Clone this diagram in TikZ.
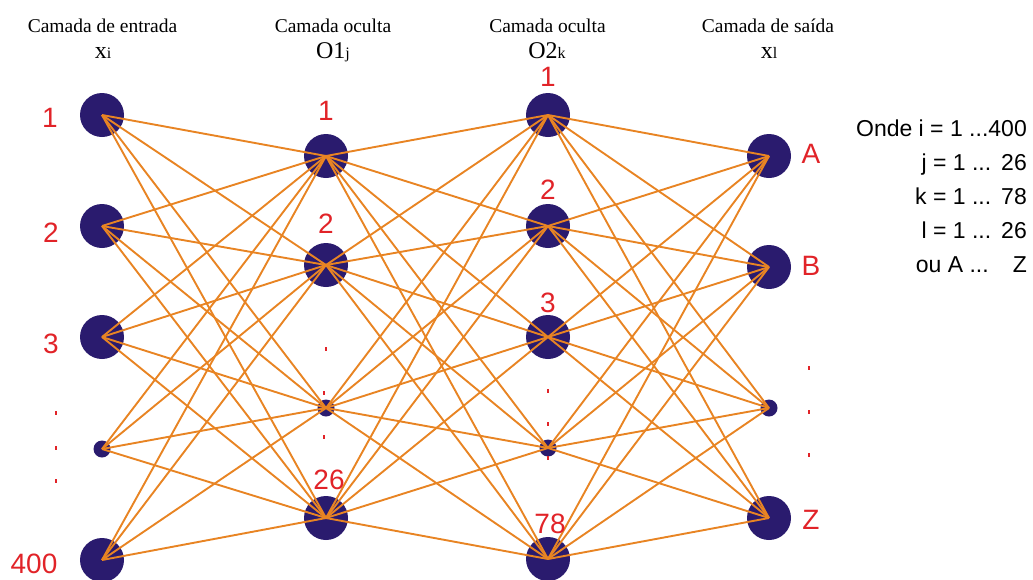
\documentclass[tikz,border=0pt]{standalone}
\usepackage{fontspec}
\setmainfont{Liberation Serif}
\newfontfamily\labfont{Liberation Sans}
\definecolor{navy}{RGB}{42,27,110}
\definecolor{wirecol}{RGB}{232,132,35}
\definecolor{lred}{RGB}{225,35,40}
\begin{document}
\begin{tikzpicture}[x=1pt,y=-1pt,
  big/.style={circle,fill=navy,minimum size=44pt,inner sep=0},
  tiny/.style={circle,fill=navy,minimum size=17pt,inner sep=0},
  wire/.style={draw=wirecol,line width=1.9pt},
  num/.style={text=lred,font=\labfont\fontsize{28}{28}\selectfont,inner sep=0},
  rdot/.style={rectangle,fill=lred,inner sep=0,minimum width=2pt,minimum height=4pt},
  head/.style={font=\fontsize{19.5}{20}\selectfont,inner sep=0,anchor=base},
  sym/.style={font=\fontsize{24}{24}\selectfont,inner sep=0,anchor=base},
  leg/.style={font=\labfont\fontsize{23}{23}\selectfont,inner sep=0,anchor=base east}]
\useasboundingbox (0,0) rectangle (1033,579);
% input layer
\node[big] (i1) at (102,115) {};
\node[big] (i2) at (102,226) {};
\node[big] (i3) at (102,337) {};
\node[tiny] (i4) at (102,449) {};
\node[big] (i5) at (102,560) {};
% hidden 1
\node[big] (a1) at (326,156) {};
\node[big] (a2) at (326,265) {};
\node[tiny] (a3) at (326,408) {};
\node[big] (a4) at (326,518) {};
% hidden 2
\node[big] (b1) at (548,115) {};
\node[big] (b2) at (548,226) {};
\node[big] (b3) at (548,337) {};
\node[tiny] (b4) at (548,448) {};
\node[big] (b5) at (548,559) {};
% output
\node[big] (c1) at (769,156) {};
\node[big] (c2) at (769,267) {};
\node[tiny] (c3) at (769,408) {};
\node[big] (c4) at (769,518) {};
% connections
\foreach \s in {i1,i2,i3,i4,i5}
  \foreach \t in {a1,a2,a3,a4}
    \draw[wire] (\s.center) -- (\t.center);
\foreach \s in {a1,a2,a3,a4}
  \foreach \t in {b1,b2,b3,b4,b5}
    \draw[wire] (\s.center) -- (\t.center);
\foreach \s in {b1,b2,b3,b4,b5}
  \foreach \t in {c1,c2,c3,c4}
    \draw[wire] (\s.center) -- (\t.center);
% labels
\node[num] (li1) at (50,118) {1};
\node[num] (li2) at (51,233) {2};
\node[num] (li3) at (51,344) {3};
\node[num] (li5) at (34,564) {400};
\node[num] (la1) at (326,111) {1};
\node[num] (la2) at (326,224) {2};
\node[num] (la4) at (329,480) {26};
\node[num] (lb1) at (548,77) {1};
\node[num] (lb2) at (548,190) {2};
\node[num] (lb3) at (548,303) {3};
\node[num] (lb5) at (550,524) {78};
\node[num] (lc1) at (811,154) {A};
\node[num] (lc2) at (811,266) {B};
\node[num] (lc4) at (811,520) {Z};
% dots
\node[rdot] (di1) at (56,413) {};
\node[rdot] (di2) at (56,448) {};
\node[rdot] (di3) at (56,481) {};
\node[rdot] (da1) at (326,349) {};
\node[rdot] (da2) at (324,393) {};
\node[rdot] (da3) at (324,437) {};
\node[rdot] (db1) at (548,391) {};
\node[rdot] (db2) at (548,424) {};
\node[rdot] (db3) at (548,458) {};
\node[rdot] (dc1) at (809,368) {};
\node[rdot] (dc2) at (809,412) {};
\node[rdot] (dc3) at (809,455) {};
% headers
\node[head] (h1) at (102.5,32) {Camada de entrada};
\node[head] (h2) at (333,32) {Camada oculta};
\node[head] (h3) at (547.5,32) {Camada oculta};
\node[head] (h4) at (768,32) {Camada de saída};
\node[sym] (s1) at (103,58) {x{\fontsize{16}{16}\selectfont i}};
\node[sym] (s2) at (333,58) {O1{\fontsize{16}{16}\selectfont j}};
\node[sym] (s3) at (547,58) {O2{\fontsize{16}{16}\selectfont k}};
\node[sym] (s4) at (769,58) {x{\fontsize{16}{16}\selectfont l}};
% legend
\node[leg] (g1) at (1027,136) {Onde i = 1 ...400};
\node[leg] (g2) at (1027,170) {j = 1 ...\hspace{10pt}26};
\node[leg] (g3) at (1027,204) {k = 1 ...\hspace{10pt}78};
\node[leg] (g4) at (1027,238) {l = 1 ...\hspace{10pt}26};
\node[leg] (g5) at (1027,272) {ou A ...\hspace{24pt}Z};
\end{tikzpicture}
\end{document}
